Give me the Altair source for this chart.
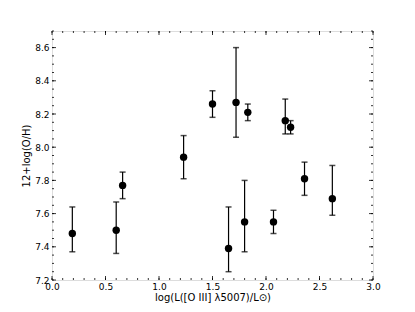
import altair as alt
import pandas as pd

# data
lum = [0.19, 0.60, 0.66, 1.23, 1.50, 1.72, 1.83, 2.18, 2.23, 1.65, 1.80, 2.07, 2.36, 2.62]
oh = [7.48, 7.50, 7.77, 7.94, 8.26, 8.27, 8.21, 8.16, 8.12, 7.39, 7.55, 7.55, 7.81, 7.69]
oh_lo = [7.37, 7.36, 7.69, 7.81, 8.18, 8.06, 8.16, 8.08, 8.08, 7.25, 7.37, 7.48, 7.71, 7.59]
oh_hi = [7.64, 7.67, 7.85, 8.07, 8.34, 8.60, 8.26, 8.29, 8.16, 7.64, 7.80, 7.62, 7.91, 7.89]

x_major = [0.0, 0.5, 1.0, 1.5, 2.0, 2.5, 3.0]
x_minor = [round(i * 0.1, 2) for i in range(31)]
y_major = [7.2, 7.4, 7.6, 7.8, 8.0, 8.2, 8.4, 8.6]
y_minor = [round(7.2 + i * 0.05, 3) for i in range(31)]

W, H = 321, 249
df = pd.DataFrame({"x": lum, "y": oh, "lo": oh_lo, "hi": oh_hi})
xs = alt.Scale(domain=[0, 3], nice=False)
ys = alt.Scale(domain=[7.2, 8.7], nice=False, zero=False)

xaxis = alt.Axis(values=x_major, format=".1f", ticks=False, domain=False, grid=False,
                 labelFontSize=9, labelPadding=2, labelColor="black",
                 title="log(L([O III] λ5007)/L⊙)", titleFontSize=10, titleFontWeight="normal",
                 titlePadding=1, titleColor="black", labelFlush=False)
yaxis = alt.Axis(values=y_major, format=".1f", ticks=False, domain=False, grid=False,
                 labelFontSize=9, labelPadding=3, labelColor="black",
                 title="12+log(O/H)", titleFontSize=10, titleFontWeight="normal",
                 titlePadding=3, titleColor="black", labelFlush=False)

base = alt.Chart(df)
bars = base.mark_rule(color="black", strokeWidth=1.2).encode(
    x=alt.X("x:Q", scale=xs, axis=xaxis),
    y=alt.Y("lo:Q", scale=ys, axis=yaxis),
    y2="hi:Q",
)
cap_lo = base.mark_tick(color="black", orient="horizontal", size=6, thickness=1.5).encode(
    x=alt.X("x:Q", scale=xs, axis=xaxis), y=alt.Y("lo:Q", scale=ys, axis=yaxis))
cap_hi = base.mark_tick(color="black", orient="horizontal", size=6, thickness=1.5).encode(
    x=alt.X("x:Q", scale=xs, axis=xaxis), y=alt.Y("hi:Q", scale=ys, axis=yaxis))
pts = base.mark_circle(color="black", opacity=1, size=55).encode(
    x=alt.X("x:Q", scale=xs, axis=xaxis), y=alt.Y("y:Q", scale=ys, axis=yaxis))

def xticks(vals, ln):
    d = alt.Chart(pd.DataFrame({"t": vals}))
    b = d.mark_rule(color="black", strokeWidth=0.8).encode(
        x=alt.X("t:Q", scale=xs, axis=xaxis), y=alt.value(H), y2=alt.value(H - ln))
    t = d.mark_rule(color="black", strokeWidth=0.8).encode(
        x=alt.X("t:Q", scale=xs, axis=xaxis), y=alt.value(0), y2=alt.value(ln))
    return [b, t]

def yticks(vals, ln):
    d = alt.Chart(pd.DataFrame({"t": vals}))
    l = d.mark_rule(color="black", strokeWidth=0.8).encode(
        y=alt.Y("t:Q", scale=ys, axis=yaxis), x=alt.value(0), x2=alt.value(ln))
    r = d.mark_rule(color="black", strokeWidth=0.8).encode(
        y=alt.Y("t:Q", scale=ys, axis=yaxis), x=alt.value(W), x2=alt.value(W - ln))
    return [l, r]

layers = [bars, cap_lo, cap_hi, pts] + xticks(x_major, 4) + xticks(x_minor, 2) + yticks(y_major, 4) + yticks(y_minor, 2)

chart = alt.layer(*layers).properties(
    width=W, height=H,
    autosize=alt.AutoSizeParams(type="none"),
    padding={"left": 44, "top": 23, "right": 34, "bottom": 32},
).configure_view(stroke="black", strokeWidth=1.5).configure(
    font="DejaVu Sans", background="white"
)

chart.save("out.html", embed_options={"renderer": "svg", "actions": False})
